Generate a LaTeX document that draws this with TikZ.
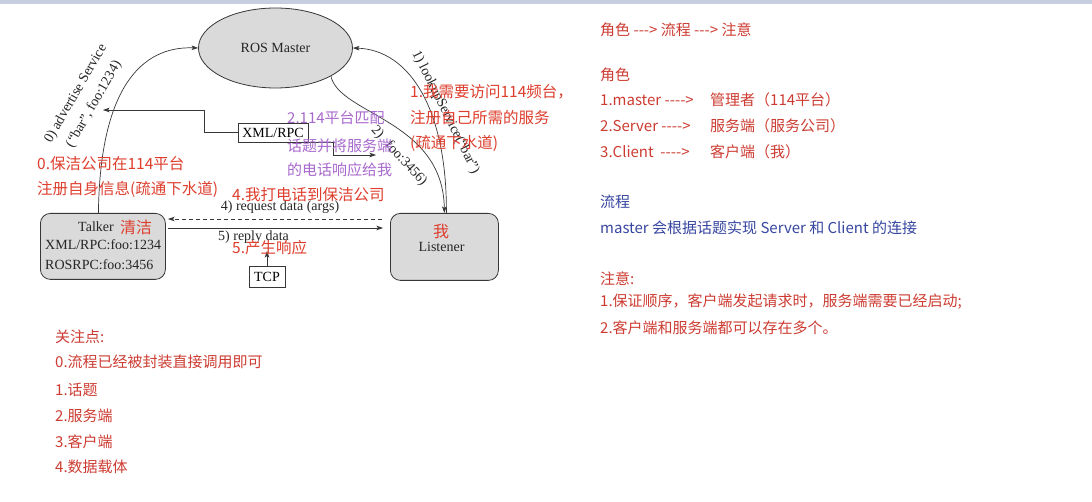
\documentclass[tikz,border=0pt]{standalone}
\usepackage{fontspec}
\setmainfont{Liberation Serif}
\newfontfamily\cjk{Noto Sans CJK SC}
\usetikzlibrary{arrows.meta,shapes.geometric,calc}
\definecolor{linec}{RGB}{55,55,55}
\definecolor{boxfill}{RGB}{218,218,218}
\definecolor{annred}{RGB}{222,62,45}
\definecolor{notered}{RGB}{205,60,50}
\definecolor{noteblue}{RGB}{55,70,160}
\definecolor{annpurple}{RGB}{168,105,205}
\definecolor{topband}{RGB}{198,207,224}
\tikzset{
  roundbox/.style={draw=linec, fill=boxfill, rounded corners=10pt, line width=0.8pt, inner sep=0pt},
  plainbox/.style={draw=linec, fill=white, line width=0.7pt, inner sep=0pt, font=\fontsize{14}{17}\selectfont},
  dtxt/.style={font=\fontsize{14}{17}\selectfont, inner sep=0pt, text=black!85},
  arr/.style={-{Stealth[length=6.5pt,width=4.5pt,inset=1.5pt]}, line width=0.7pt, draw=linec},
  ann/.style={font=\cjk\fontsize{15.5}{18}\selectfont, text=annred, inner sep=0pt, anchor=west},
  pann/.style={font=\cjk\fontsize{15}{18}\selectfont, text=annpurple, inner sep=0pt, anchor=west},
  note/.style={font=\cjk\fontsize{15}{18}\selectfont, text=notered, inner sep=0pt, anchor=west},
  bnote/.style={font=\cjk\fontsize{15}{18}\selectfont, text=noteblue, inner sep=0pt, anchor=west},
}
\begin{document}
\begin{tikzpicture}[x=1pt,y=-1pt]
\useasboundingbox (0,0) rectangle (1092,502);
\fill[white] (0,0) rectangle (1092,502);
\fill[topband] (0,0) rectangle (1092,4);

% ---- nodes of the diagram ----
\node[ellipse, draw=linec, fill=boxfill, line width=0.8pt, minimum width=154pt, minimum height=80pt, inner sep=0pt] (master) at (275.5,48) {};
\node[dtxt] (mastertxt) at (275.5,48) {ROS Master};

\node[roundbox, minimum width=125pt, minimum height=66pt, anchor=north west] (talker) at (40,213) {};
\node[dtxt, anchor=west] (talkertxt) at (78,227) {Talker};
\node[ann, font=\cjk\fontsize{16}{18}\selectfont] (qingjie) at (120,227) {清洁};
\node[dtxt, anchor=west] (talkerx) at (45,245) {XML/RPC:foo:1234};
\node[dtxt, anchor=west] (talkerr) at (45,265) {ROSRPC:foo:3456};

\node[roundbox, minimum width=108pt, minimum height=67pt, anchor=north west] (listener) at (390,213) {};
\node[ann, anchor=center, font=\cjk\fontsize{16}{18}\selectfont] (wo) at (441,232) {我};
\node[dtxt] (listenertxt) at (441.5,247) {Listener};

\node[plainbox, minimum width=70pt, minimum height=19pt] (xmlrpc) at (273,132.5) {XML/RPC};
\node[plainbox, minimum width=36pt, minimum height=21pt] (tcp) at (267,276.5) {TCP};

% ---- connector end points ----
\coordinate (c0s) at ($(talker.north)+(-4.5,0)$);
\coordinate (xl) at (103,110);
\coordinate (xr) at (376,155);
\coordinate (dR) at (382,219);
\coordinate (dL) at (168,219);
\coordinate (sL) at (168,228);
\coordinate (sR) at (383,228);
\coordinate (tcptip) at (267,251);
\coordinate (c1s) at ($(listener.north)+(2,0)$);

% ---- connectors ----
\draw[arr] (c0s) .. controls (100,90) and (140,46) .. (master.west);
\draw[arr] (c1s) .. controls (447,110) and (410,50) .. (master.east);
\draw[arr] (master.-27) .. controls (340,115) and (443,120) .. (listener.north);
\draw[arr] (xmlrpc.west) -- ++(-33,0) |- (xl);
\draw[arr] (xmlrpc.south east) -- ++(25,0) |- (xr);
\draw[arr, dash pattern=on 4pt off 3pt] (dR) -- (dL);
\draw[arr] (sL) -- (sR);
\draw[arr] (tcp.north) -- (tcptip);

% ---- connector labels ----
\node[dtxt, rotate=60, align=center, font=\fontsize{14}{21}\selectfont] (lbl0) at (85,99) {0)~advertise Service\\(``bar'', foo:1234)};
\node[dtxt, rotate=-63.5] (lbl1) at (445.5,112.5) {1)~lookupService(``bar'')};
\node[dtxt, rotate=-47.5] (lbl2) at (399,156) {2)\hspace{9pt}foo:3456)};
\node[dtxt] (lbl4) at (280,207) {4)~request data (args)};
\node[dtxt, anchor=west] (lbl5) at (218,237) {5)~reply data};

% ---- annotations over the diagram ----
\node[ann] (a0a) at (37,164) {0.保洁公司在114平台};
\node[ann] (a0b) at (37,189) {注册自身信息(疏通下水道)};
\node[ann] (a4) at (232,195) {4.我打电话到保洁公司};
\node[ann] (a5) at (232,248) {5.产生响应};
\node[ann] (a1a) at (410,92) {1.我需要访问114频台，};
\node[ann] (a1b) at (410,118) {注册自己所需的服务};
\node[ann] (a1c) at (410,143) {(疏通下水道)};
\node[pann] (p1) at (287,118) {2.114平台匹配};
\node[pann] (p2) at (287,146) {话题并将服务端};
\node[pann] (p3) at (287,170) {的电话响应给我};

% ---- right panel ----
\node[note] (r0) at (600,30) {角色 -{}-{}-> 流程 -{}-{}-> 注意};
\node[note] (r1) at (600,75) {角色};
\node[note] (r2) at (600,100) {\makebox[110pt][l]{1.master -{}-{}-{}->}管理者（114平台）};
\node[note] (r3) at (600,126) {\makebox[110pt][l]{2.Server -{}-{}-{}->}服务端（服务公司）};
\node[note] (r4) at (600,152) {\makebox[110pt][l]{3.Client\ \ -{}-{}-{}->}客户端（我）};
\node[bnote] (r5) at (600,202) {流程};
\node[bnote] (r6) at (600,228) {master 会根据话题实现 Server 和 Client 的连接};
\node[note] (r7) at (600,279) {注意:};
\node[note] (r8) at (600,302) {1.保证顺序，客户端发起请求时，服务端需要已经启动;};
\node[note] (r9) at (600,328) {2.客户端和服务端都可以存在多个。};

% ---- bottom-left list ----
\node[note] (b0) at (55,337) {关注点:};
\node[note] (b1) at (55,362) {0.流程已经被封装直接调用即可};
\node[note] (b2) at (55,390) {1.话题};
\node[note] (b3) at (55,416) {2.服务端};
\node[note] (b4) at (55,442) {3.客户端};
\node[note] (b5) at (55,467) {4.数据载体};
\end{tikzpicture}
\end{document}
